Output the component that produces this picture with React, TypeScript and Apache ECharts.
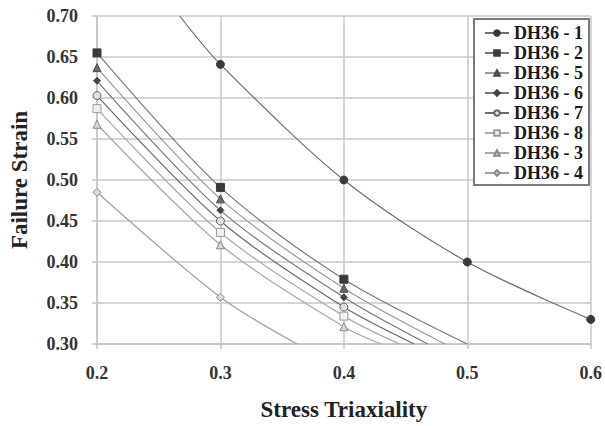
import React, { useEffect, useRef } from "react";
import * as echarts from "echarts";

// Stress triaxiality values of measured points
const triaxLow = [0.2, 0.3, 0.4];
const triaxDH36_1 = [0.3, 0.4, 0.5, 0.6];

// Failure strain values
const strainDH36_1 = [0.641, 0.5, 0.4, 0.33];
const strainDH36_2 = [0.655, 0.491, 0.379];
const strainDH36_5 = [0.637, 0.477, 0.368];
const strainDH36_6 = [0.621, 0.463, 0.357];
const strainDH36_7 = [0.603, 0.45, 0.345];
const strainDH36_8 = [0.587, 0.436, 0.334];
const strainDH36_3 = [0.568, 0.421, 0.321];
const strainDH36_4 = [0.485, 0.357];

// Where the fitted curves leave the plot
const trendStartDH36_1 = [0.267, 0.7];
const trendEndX = {
  "DH36 - 2": 0.5,
  "DH36 - 5": 0.482,
  "DH36 - 6": 0.468,
  "DH36 - 7": 0.457,
  "DH36 - 8": 0.445,
  "DH36 - 3": 0.43,
  "DH36 - 4": 0.362,
};
const trendEndY = 0.3;

const seriesNames = ["DH36 - 1", "DH36 - 2", "DH36 - 5", "DH36 - 6", "DH36 - 7", "DH36 - 8", "DH36 - 3", "DH36 - 4"];

const FONT = "'Liberation Serif', 'Times New Roman', serif";

export default function App() {
  const ref = useRef<HTMLDivElement>(null);
  useEffect(() => {
    if (!ref.current) return;
    document.body.style.margin = "0";
    const chart = echarts.init(ref.current, null, { renderer: "svg" });

    const styles: Record<string, any> = {
      "DH36 - 1": { symbol: "circle", size: 8, line: "#6e6e6e", fill: "#3a3a3a", stroke: "#3a3a3a" },
      "DH36 - 2": { symbol: "rect", size: 8, line: "#7a7a7a", fill: "#3a3a3a", stroke: "#3a3a3a" },
      "DH36 - 5": { symbol: "triangle", size: 8, line: "#9a9a9a", fill: "#6a6a6a", stroke: "#4a4a4a" },
      "DH36 - 6": { symbol: "diamond", size: 7, line: "#7a7a7a", fill: "#444", stroke: "#444" },
      "DH36 - 7": { symbol: "circle", size: 8, line: "#6a6a6a", fill: "#e0e0e0", stroke: "#666" },
      "DH36 - 8": { symbol: "rect", size: 8, line: "#ababab", fill: "#f0f0f0", stroke: "#9a9a9a" },
      "DH36 - 3": { symbol: "triangle", size: 8, line: "#a8a8a8", fill: "#d8d8d8", stroke: "#8a8a8a" },
      "DH36 - 4": { symbol: "diamond", size: 8, line: "#a0a0a0", fill: "#dcdcdc", stroke: "#8a8a8a" },
    };

    const pts = (xs: number[], ys: number[]) => ys.map((y, i) => [xs[i], y]);
    const dataMap: Record<string, any[]> = {
      "DH36 - 1": [{ value: trendStartDH36_1, symbol: "none" }, ...pts(triaxDH36_1, strainDH36_1)],
      "DH36 - 2": pts(triaxLow, strainDH36_2),
      "DH36 - 5": pts(triaxLow, strainDH36_5),
      "DH36 - 6": pts(triaxLow, strainDH36_6),
      "DH36 - 7": pts(triaxLow, strainDH36_7),
      "DH36 - 8": pts(triaxLow, strainDH36_8),
      "DH36 - 3": pts(triaxLow, strainDH36_3),
      "DH36 - 4": pts(triaxLow, strainDH36_4),
    };
    Object.keys(trendEndX).forEach((k) => {
      dataMap[k].push({ value: [(trendEndX as any)[k], trendEndY], symbol: "none" });
    });

    const series = seriesNames.map((name) => {
      const s = styles[name];
      return {
        name,
        type: "line",
        data: dataMap[name],
        smooth: 0.3,
        symbol: s.symbol,
        symbolSize: s.size,
        showAllSymbol: true,
        lineStyle: { color: s.line, width: 1.2 },
        itemStyle: { color: s.fill, borderColor: s.stroke, borderWidth: 1 },
        clip: false,
        z: 3,
      };
    });

    chart.setOption({
      animation: false,
      backgroundColor: "#ffffff",
      grid: { left: 92, right: 13, top: 16, bottom: 82, containLabel: false },
      xAxis: {
        type: "value",
        min: 0.2,
        max: 0.6,
        interval: 0.1,
        name: "Stress Triaxiality",
        nameLocation: "middle",
        nameGap: 54,
        nameTextStyle: { fontFamily: FONT, fontWeight: "bold", fontSize: 23, color: "#222" },
        axisLine: { show: true, lineStyle: { color: "#c4c4c4", width: 1.5 } },
        axisTick: { show: true, length: 5, lineStyle: { color: "#c4c4c4", width: 1.5 } },
        splitLine: { show: true, lineStyle: { color: "#c8c8c8", width: 1.5 } },
        axisLabel: {
          margin: 20,
          fontFamily: FONT,
          fontWeight: "bold",
          fontSize: 18,
          color: "#333",
          formatter: (v: number) => v.toFixed(1),
        },
      },
      yAxis: {
        type: "value",
        min: 0.3,
        max: 0.7,
        interval: 0.05,
        name: "Failure Strain",
        nameLocation: "middle",
        nameGap: 66,
        nameRotate: 90,
        nameTextStyle: { fontFamily: FONT, fontWeight: "bold", fontSize: 23, color: "#222" },
        axisLine: { show: true, lineStyle: { color: "#c4c4c4", width: 1.5 } },
        axisTick: { show: true, length: 5, lineStyle: { color: "#c4c4c4", width: 1.5 } },
        splitLine: { show: true, lineStyle: { color: "#c8c8c8", width: 1.5 } },
        axisLabel: {
          margin: 19,
          fontFamily: FONT,
          fontWeight: "bold",
          fontSize: 18,
          color: "#333",
          formatter: (v: number) => v.toFixed(2),
        },
      },
      legend: {
        show: true,
        orient: "vertical",
        left: 474,
        top: 19,
        width: 118,
        padding: [5, 6, 3, 10],
        itemWidth: 24,
        itemHeight: 7,
        itemGap: 2,
        backgroundColor: "#ffffff",
        borderColor: "#7a7a7a",
        borderWidth: 2,
        textStyle: { fontFamily: FONT, fontWeight: "bold", fontSize: 18, color: "#1a1a1a", padding: [0, 0, 0, 0] },
        data: seriesNames,
      },
      series,
    });
    return () => chart.dispose();
  }, []);
  return <div ref={ref} style={{ width: 605, height: 426, position: "absolute", left: 0, top: 0 }} />;
}
